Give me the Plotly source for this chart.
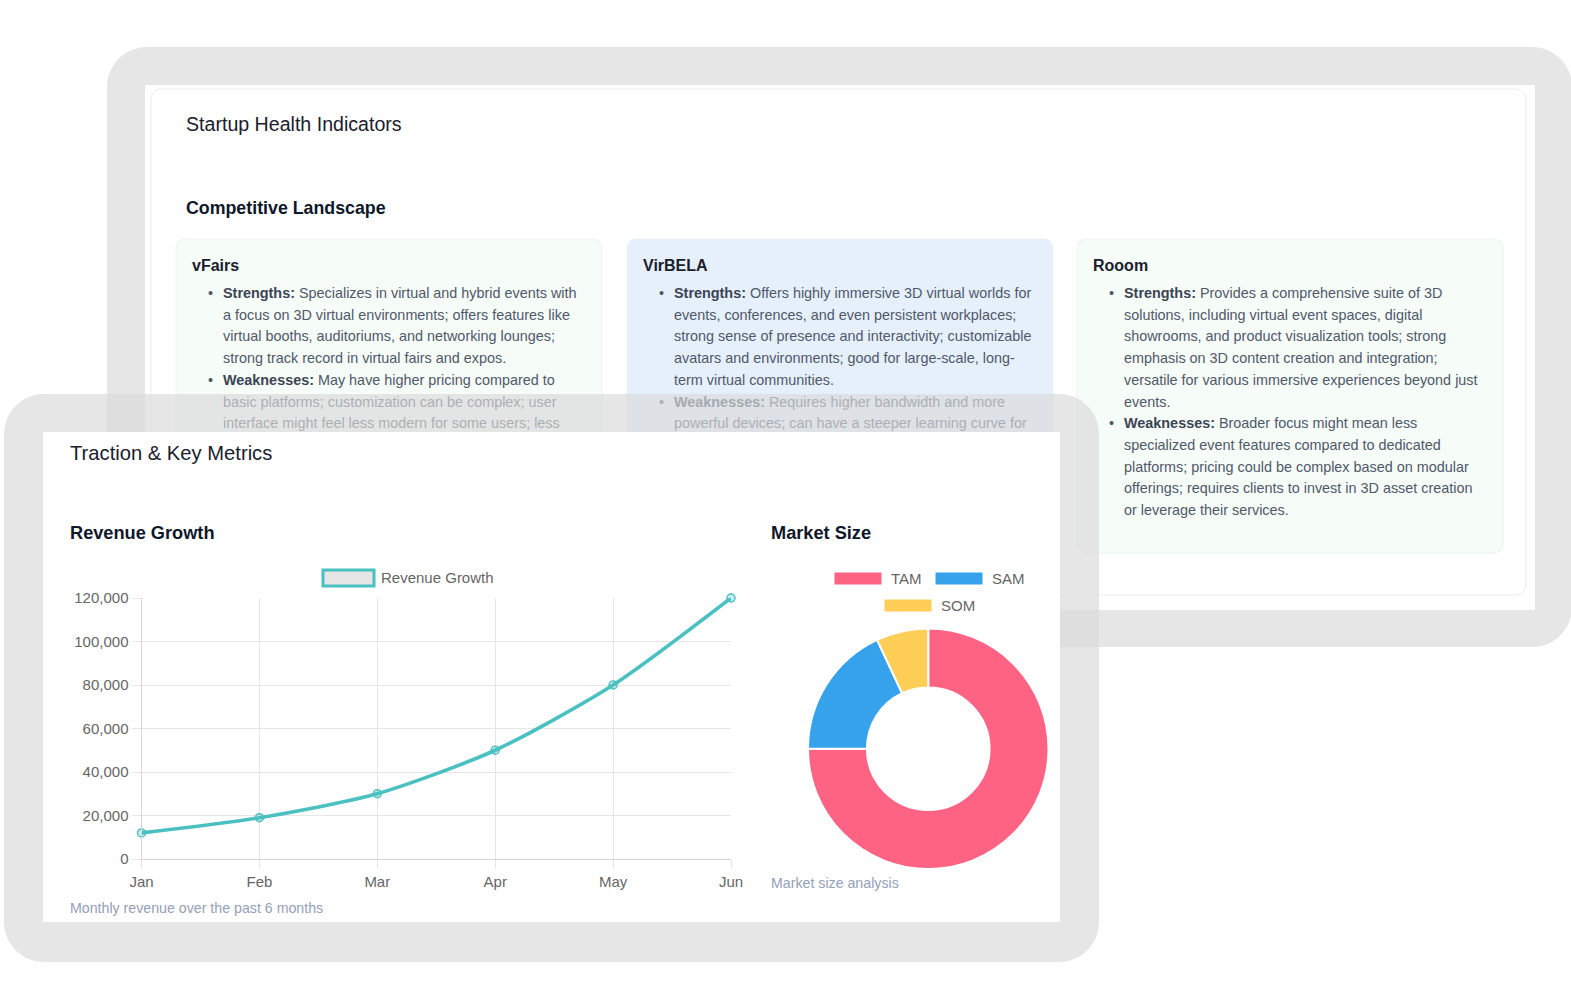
import plotly.graph_objects as go

W, H = 1571, 1004

# ---------------- data ----------------
months = ["Jan", "Feb", "Mar", "Apr", "May", "Jun"]
revenue = [12000, 19000, 30000, 50000, 80000, 120000]
revenue_name = "Revenue Growth"
revenue_color = "#4BC0C0"
y_ticks = [0, 20000, 40000, 60000, 80000, 100000, 120000]

market_labels = ["TAM", "SAM", "SOM"]
market_values = [75, 18, 7]
market_colors = ["#FF6384", "#36A2EB", "#FFCE56"]

vfairs_lines = [
    ("Strengths:", "Specializes in virtual and hybrid events with"),
    (None, "a focus on 3D virtual environments; offers features like"),
    (None, "virtual booths, auditoriums, and networking lounges;"),
    (None, "strong track record in virtual fairs and expos."),
    ("Weaknesses:", "May have higher pricing compared to"),
    (None, "basic platforms; customization can be complex; user"),
    (None, "interface might feel less modern for some users; less"),
]
virbela_lines = [
    ("Strengths:", "Offers highly immersive 3D virtual worlds for"),
    (None, "events, conferences, and even persistent workplaces;"),
    (None, "strong sense of presence and interactivity; customizable"),
    (None, "avatars and environments; good for large-scale, long-"),
    (None, "term virtual communities."),
    ("Weaknesses:", "Requires higher bandwidth and more"),
    (None, "powerful devices; can have a steeper learning curve for"),
]
rooom_lines = [
    ("Strengths:", "Provides a comprehensive suite of 3D"),
    (None, "solutions, including virtual event spaces, digital"),
    (None, "showrooms, and product visualization tools; strong"),
    (None, "emphasis on 3D content creation and integration;"),
    (None, "versatile for various immersive experiences beyond just"),
    (None, "events."),
    ("Weaknesses:", "Broader focus might mean less"),
    (None, "specialized event features compared to dedicated"),
    (None, "platforms; pricing could be complex based on modular"),
    (None, "offerings; requires clients to invest in 3D asset creation"),
    (None, "or leverage their services."),
]

FONT = "Arial, Liberation Sans, Helvetica, sans-serif"


def X(px):
    return px / W


def Y(py):
    return 1 - py / H


def rrect(x0, y0, x1, y1, r):
    k = 0.5523 * r
    p = []
    p.append(f"M {X(x0 + r)},{Y(y0)}")
    p.append(f"L {X(x1 - r)},{Y(y0)}")
    p.append(f"C {X(x1 - r + k)},{Y(y0)} {X(x1)},{Y(y0 + r - k)} {X(x1)},{Y(y0 + r)}")
    p.append(f"L {X(x1)},{Y(y1 - r)}")
    p.append(f"C {X(x1)},{Y(y1 - r + k)} {X(x1 - r + k)},{Y(y1)} {X(x1 - r)},{Y(y1)}")
    p.append(f"L {X(x0 + r)},{Y(y1)}")
    p.append(f"C {X(x0 + r - k)},{Y(y1)} {X(x0)},{Y(y1 - r + k)} {X(x0)},{Y(y1 - r)}")
    p.append(f"L {X(x0)},{Y(y0 + r)}")
    p.append(f"C {X(x0)},{Y(y0 + r - k)} {X(x0 + r - k)},{Y(y0)} {X(x0 + r)},{Y(y0)}")
    p.append("Z")
    return " ".join(p)


shapes = []
annotations = []

OVER = "rgba(218,218,218,0.68)"


def add_path(path, fill, line_color=None, line_width=0, layer="below"):
    shapes.append(dict(type="path", path=path, xref="paper", yref="paper",
                       fillcolor=fill, layer=layer,
                       line=dict(color=line_color or "rgba(0,0,0,0)", width=line_width)))


def add_rect(x0, y0, x1, y1, fill, line_color=None, line_width=0, layer="below"):
    shapes.append(dict(type="rect", xref="paper", yref="paper",
                       x0=X(x0), x1=X(x1), y0=Y(y1), y1=Y(y0),
                       fillcolor=fill, layer=layer,
                       line=dict(color=line_color or "rgba(0,0,0,0)", width=line_width)))


def add_text(px, py, text, size=14, color="#4a5568", anchor="left"):
    annotations.append(dict(x=X(px), y=Y(py), xref="paper", yref="paper",
                            text=text, showarrow=False, xanchor=anchor, yanchor="middle",
                            font=dict(family=FONT, size=size, color=color), borderpad=0))


# ---------- back panel ----------
add_path(rrect(107, 47, 1572, 647, 40), OVER)
add_rect(145, 85, 1535, 610, "white")
add_path(rrect(151, 89, 1526, 595, 10), "white", "#ececec", 1)

cards = [
    (176, "vFairs", vfairs_lines, "#f6fcf8"),
    (627, "VirBELA", virbela_lines, "#e6f0fc"),
    (1077, "Rooom", rooom_lines, "#f6fcf8"),
]
for cx, _, _, bg in cards:
    add_path(rrect(cx, 239, cx + 426, 553, 9), bg, "#edf2ef", 1)

# ---------- front panel ----------
add_path(rrect(4, 394, 1099, 962, 40), OVER)
add_rect(43, 432, 1060, 922, "white")

# ---------- texts back panel ----------
add_text(185, 124, "Startup Health Indicators", 19.6, "#1a202c")
add_text(185, 208, "<b>Competitive Landscape</b>", 17.8, "#0f172a")

line_y0 = 293
line_dy = 21.7
BODY = 14.4
for cx, title, lines, _ in cards:
    add_text(cx + 15, 265, f"<b>{title}</b>", 16, "#1a202c")
    for i, (bold, rest) in enumerate(lines):
        py = line_y0 + i * line_dy
        faded = (py > 390 and cx < 1000)
        body = "#acafb5" if faded else "#4f5869"
        strong = "#a6aab1" if faded else "#3b4454"
        if bold:
            add_text(cx + 31, py, "•", BODY, body)
            txt = f"<b><span style='color:{strong}'>{bold}</span></b> {rest}"
        else:
            txt = rest
        add_text(cx + 46, py, txt, BODY, body)

# ---------- texts front panel ----------
add_text(69, 453, "Traction &amp; Key Metrics", 20.2, "#1a202c")
add_text(69, 533, "<b>Revenue Growth</b>", 18.2, "#0f172a")
add_text(770, 533, "<b>Market Size</b>", 18.2, "#0f172a")
add_text(69, 908, "Monthly revenue over the past 6 months", 14.2, "#94a0b8")
add_text(770, 883, "Market size analysis", 14.2, "#94a0b8")

# ---------- legends ----------
add_rect(323, 570, 374, 586, "#e6e6e6", revenue_color, 3, layer="above")
add_text(380, 577, revenue_name, 15, "#666666")

leg_pos = [(834, 572), (935, 572), (884, 599)]
for (lx, ly), lab, col in zip(leg_pos, market_labels, market_colors):
    add_rect(lx, ly, lx + 48, ly + 13, col, "white", 1, layer="above")
    add_text(lx + 56, ly + 6.5, lab, 15, "#666666")

# ---------- traces ----------
fig = go.Figure()
fig.add_trace(go.Scatter(
    x=months, y=revenue, mode="lines+markers", name=revenue_name,
    line=dict(color=revenue_color, width=3.6, shape="spline", smoothing=0.7),
    marker=dict(size=8, color="rgba(75,192,192,0.3)", line=dict(color=revenue_color, width=1.5)),
    cliponaxis=False, showlegend=False,
))
fig.add_trace(go.Pie(
    labels=market_labels, values=market_values,
    marker=dict(colors=market_colors, line=dict(color="white", width=2)),
    hole=0.51, sort=False, direction="clockwise", rotation=0,
    textinfo="none", showlegend=False,
    domain=dict(x=[X(808), X(1048.5)], y=[Y(869), Y(628.5)]),
))

fig.update_layout(
    width=W, height=H, autosize=False,
    margin=dict(l=0, r=0, t=0, b=0, pad=0, autoexpand=False),
    paper_bgcolor="white",
    plot_bgcolor="rgba(0,0,0,0)",
    shapes=shapes,
    annotations=annotations,
    showlegend=False,
    xaxis=dict(
        domain=[X(141.5), X(731)], type="category", range=[0, 5],
        automargin=False,
        showgrid=True, gridcolor="#e6e6e6", gridwidth=1,
        showline=True, linecolor="#d4d4d4", linewidth=1,
        ticks="outside", ticklen=9, tickcolor="#e6e6e6",
        tickfont=dict(family=FONT, size=15, color="#666666"),
        fixedrange=True,
    ),
    yaxis=dict(
        domain=[Y(859), Y(598)], range=[0, 120000],
        automargin=False,
        tickvals=y_ticks, ticktext=[f"{v:,}" for v in y_ticks],
        showgrid=True, gridcolor="#e6e6e6", gridwidth=1,
        zeroline=False,
        showline=True, linecolor="#d4d4d4", linewidth=1,
        ticks="outside", ticklen=9, tickcolor="#e6e6e6",
        tickfont=dict(family=FONT, size=15, color="#666666"),
        fixedrange=True,
    ),
)

fig.write_html("out.html")
